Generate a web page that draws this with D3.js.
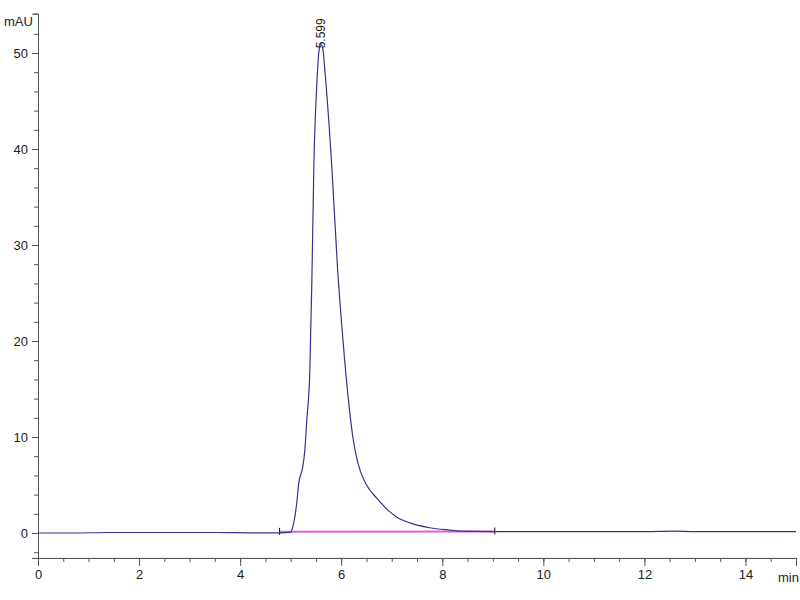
<!DOCTYPE html>
<html>
<head>
    <meta charset="utf-8">
    <title>Chromatogram</title>
    <script src="https://cdn.jsdelivr.net/npm/d3@7"></script>
    <style>
        body { margin: 0; background: #fff; }
        text { font-family: "Liberation Sans", Arial, sans-serif; }
    </style>
</head>
<body>
<svg id="chart" width="800" height="600"></svg>
<script>
    // retention time (min) and signal (mAU)
    let times = [0, 0.66, 1.4, 2.5, 3.5, 4.2, 4.8, 5.0, 5.04, 5.12, 5.16, 5.24, 5.28, 5.32, 5.38, 5.42, 5.46,
        5.52, 5.56, 5.599, 5.64, 5.68, 5.81, 5.93, 6.03, 6.15, 6.23, 6.33, 6.48, 6.71, 6.94, 7.12, 7.36,
        7.75, 8.15, 8.35, 9.0, 10.5, 12.0, 12.6, 13.0, 14.0, 15.0]
    let signal = [0, 0, 0.05, 0.05, 0.05, 0.02, 0.02, 0.1, 0.6, 3.1, 5.2, 6.9, 8.6, 11.8, 17.0, 26.4, 38.5,
        47.0, 50.2, 50.9, 50.3, 48.0, 38.5, 27.4, 20.4, 13.5, 10.0, 7.3, 5.2, 3.6, 2.3, 1.6, 1.05,
        0.55, 0.3, 0.2, 0.15, 0.15, 0.15, 0.2, 0.15, 0.15, 0.15]

    // peak annotation and integration baseline
    let peakTime = 5.599
    let peakValue = 50.9
    let peakLabel = "5.599"
    let baseTimes = [4.78, 9.04]
    let baseValues = [0.12, 0.15]

    let xMajor = [0, 2, 4, 6, 8, 10, 12, 14]
    let yMajor = [0, 10, 20, 30, 40, 50]

    let svg = d3.select("#chart")

    let x = d3.scaleLinear().domain([0, 15]).range([38, 796])
    let y = d3.scaleLinear().domain([0, 50]).range([533, 53])
    let yBottom = y(-2.6), yTop = y(54.1)

    // axes: minor ticks first, then major with labels
    let xAxisG = svg.append("g").attr("transform", "translate(0," + yBottom + ")")
    xAxisG.call(d3.axisBottom(x).tickValues(d3.range(0, 15.01, 0.5)).tickSize(4).tickFormat(""))
    xAxisG.append("g").call(d3.axisBottom(x).tickValues(xMajor).tickSize(8).tickPadding(4).tickFormat(d3.format("d")))

    let yScaleFull = d3.scaleLinear().domain([-2.6, 54.1]).range([yBottom, yTop])
    let yAxisG = svg.append("g").attr("transform", "translate(38,0)")
    yAxisG.call(d3.axisLeft(yScaleFull).tickValues(d3.range(-2, 54, 2)).tickSize(4).tickFormat(""))
    yAxisG.append("g").call(d3.axisLeft(yScaleFull).tickValues(yMajor).tickSize(6).tickPadding(4).tickFormat(d3.format("d")))

    svg.selectAll(".domain").attr("stroke", "#555")
    svg.selectAll(".tick line").attr("stroke", "#555")
    svg.selectAll(".tick text").attr("font-size", 13).attr("fill", "#222")
        .attr("font-family", "'Liberation Sans', Arial, sans-serif")

    svg.append("text").attr("x", 4).attr("y", 26).attr("font-size", 13).attr("fill", "#222").text("mAU")
    svg.append("text").attr("x", 778).attr("y", 582).attr("font-size", 13).attr("fill", "#222").text("min")

    // integration baseline (pink) with start/end markers
    let baseData = d3.zip(baseTimes, baseValues)
    svg.append("path")
        .datum(baseData)
        .attr("fill", "none")
        .attr("stroke", "#e060d8")
        .attr("stroke-width", 2)
        .attr("d", d3.line().x(d => x(d[0])).y(d => y(d[1])))
    svg.selectAll(".marker")
        .data(baseData)
        .enter()
        .append("line")
        .attr("x1", d => x(d[0])).attr("x2", d => x(d[0]))
        .attr("y1", d => y(d[1]) - 4).attr("y2", d => y(d[1]) + 3)
        .attr("stroke", "#111")

    // chromatogram trace
    let trace = d3.zip(times, signal)
    svg.append("path")
        .datum(trace)
        .attr("fill", "none")
        .attr("stroke", "#34348f")
        .attr("stroke-width", 1.2)
        .attr("d", d3.line().x(d => x(d[0])).y(d => y(d[1])).curve(d3.curveMonotoneX))

    // peak label, rotated
    svg.append("text")
        .attr("transform", "translate(" + (x(peakTime) + 4) + "," + (y(peakValue) + 4) + ") rotate(-90)")
        .attr("font-size", 12)
        .attr("fill", "#222")
        .text(peakLabel)
</script>
</body>
</html>
